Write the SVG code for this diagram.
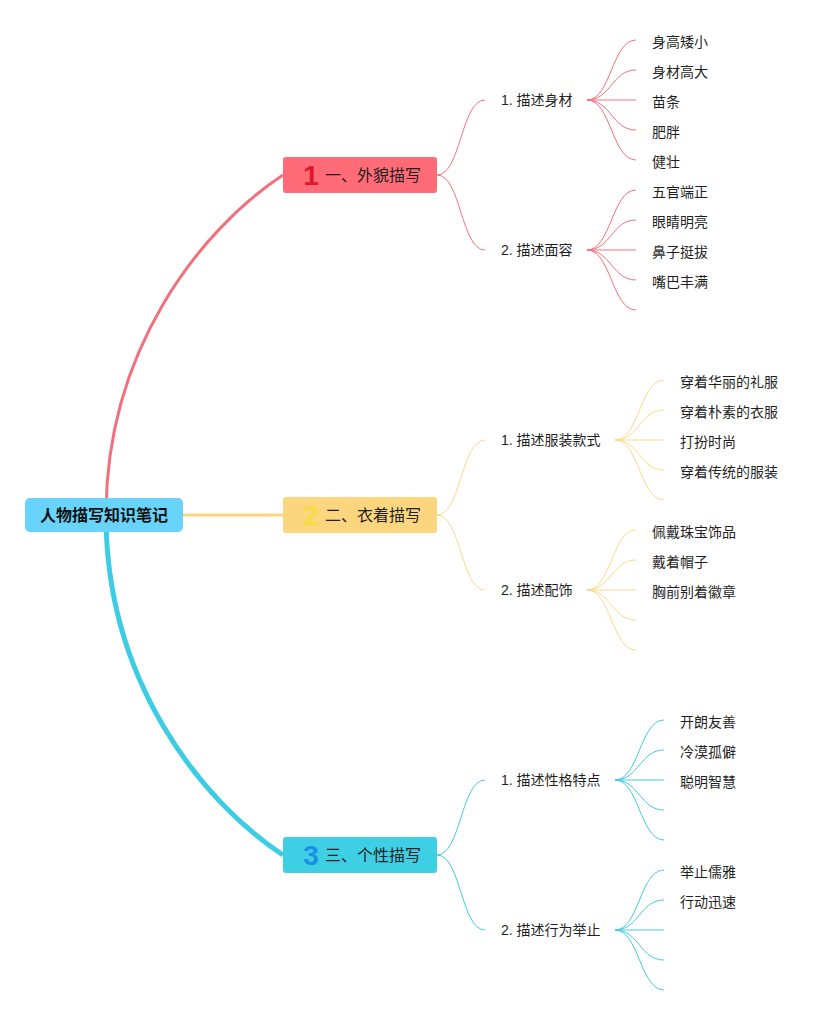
<svg xmlns="http://www.w3.org/2000/svg" width="837" height="1015" viewBox="0 0 837 1015">
<style>
text{font-family:"Liberation Sans","Noto Sans CJK SC",sans-serif;fill:#1f1f1f}
.root{font-size:16px;font-weight:bold;fill:#111}
.br{font-size:16px}
.num{font-size:28px;font-weight:bold}
.sub{font-size:14px}
.leaf{font-size:14px}
.thin{fill:none;stroke-width:1}
.r{stroke:#f1727e}
.y{stroke:#fbd98a}
.b{stroke:#45cbe3}
</style>
<rect width="837" height="1015" fill="#ffffff"/>
<g id="connectors" fill="none">
  <path d="M106,515 C106,350 200,230 283,175" stroke="#f0717d" stroke-width="3"/>
  <path d="M183,515 L283,515" stroke="#fbd67f" stroke-width="3"/>
  <path d="M106,515 C106,680 200,800 283,855" stroke="#3ccde4" stroke-width="5"/>
  <!-- branch 1 -->
  <path class="thin r" d="M437,175 C461,175 461,100 485,100"/>
  <path class="thin r" d="M437,175 C461,175 461,250 485,250"/>
  <path class="thin r" d="M587,100 C611,100 612,40 636,40"/>
  <path class="thin r" d="M587,100 C611,100 612,70 636,70"/>
  <path class="thin r" d="M587,100 L636,100"/>
  <path class="thin r" d="M587,100 C611,100 612,130 636,130"/>
  <path class="thin r" d="M587,100 C611,100 612,160 636,160"/>
  <path class="thin r" d="M587,250 C611,250 612,190 636,190"/>
  <path class="thin r" d="M587,250 C611,250 612,220 636,220"/>
  <path class="thin r" d="M587,250 L636,250"/>
  <path class="thin r" d="M587,250 C611,250 612,280 636,280"/>
  <path class="thin r" d="M587,250 C611,250 612,310 636,310"/>
  <!-- branch 2 -->
  <path class="thin y" d="M437,515 C461,515 461,440 485,440"/>
  <path class="thin y" d="M437,515 C461,515 461,590 485,590"/>
  <path class="thin y" d="M615,440 C639,440 640,380 664,380"/>
  <path class="thin y" d="M615,440 C639,440 640,410 664,410"/>
  <path class="thin y" d="M615,440 L664,440"/>
  <path class="thin y" d="M615,440 C639,440 640,470 664,470"/>
  <path class="thin y" d="M615,440 C639,440 640,500 664,500"/>
  <path class="thin y" d="M587,590 C611,590 612,530 636,530"/>
  <path class="thin y" d="M587,590 C611,590 612,560 636,560"/>
  <path class="thin y" d="M587,590 L636,590"/>
  <path class="thin y" d="M587,590 C611,590 612,620 636,620"/>
  <path class="thin y" d="M587,590 C611,590 612,650 636,650"/>
  <!-- branch 3 -->
  <path class="thin b" d="M437,855 C461,855 461,780 485,780"/>
  <path class="thin b" d="M437,855 C461,855 461,930 485,930"/>
  <path class="thin b" d="M615,780 C639,780 640,720 664,720"/>
  <path class="thin b" d="M615,780 C639,780 640,750 664,750"/>
  <path class="thin b" d="M615,780 L664,780"/>
  <path class="thin b" d="M615,780 C639,780 640,810 664,810"/>
  <path class="thin b" d="M615,780 C639,780 640,840 664,840"/>
  <path class="thin b" d="M615,930 C639,930 640,870 664,870"/>
  <path class="thin b" d="M615,930 C639,930 640,900 664,900"/>
  <path class="thin b" d="M615,930 L664,930"/>
  <path class="thin b" d="M615,930 C639,930 640,960 664,960"/>
  <path class="thin b" d="M615,930 C639,930 640,990 664,990"/>
</g>
<g id="root">
  <rect x="25" y="498" width="158" height="34" rx="5" fill="#68d4fc"/>
  <text class="root" x="104" y="521" text-anchor="middle">人物描写知识笔记</text>
</g>
<g id="branch1">
  <rect x="283" y="157" width="154" height="36" rx="3" fill="#ff6c78"/>
  <text class="num" x="311" y="185" text-anchor="middle" fill="#e2162c" style="fill:#e2162c">1</text>
  <text class="br" x="325" y="181">一、外貌描写</text>
</g>
<g id="branch2">
  <rect x="283" y="497" width="154" height="36" rx="3" fill="#fcd67e"/>
  <text class="num" x="311" y="525" text-anchor="middle" style="fill:#f8dc45">2</text>
  <text class="br" x="325" y="521">二、衣着描写</text>
</g>
<g id="branch3">
  <rect x="283" y="837" width="154" height="36" rx="3" fill="#3ecfe4"/>
  <text class="num" x="311" y="865" text-anchor="middle" style="fill:#1a8fe6">3</text>
  <text class="br" x="325" y="861">三、个性描写</text>
</g>
<g id="sub1-1"><text class="sub" x="501" y="105">1. 描述身材</text></g>
<g id="sub1-2"><text class="sub" x="501" y="255">2. 描述面容</text></g>
<g id="sub2-1"><text class="sub" x="501" y="445">1. 描述服装款式</text></g>
<g id="sub2-2"><text class="sub" x="501" y="595">2. 描述配饰</text></g>
<g id="sub3-1"><text class="sub" x="501" y="785">1. 描述性格特点</text></g>
<g id="sub3-2"><text class="sub" x="501" y="935">2. 描述行为举止</text></g>
<g id="leaves1">
  <text class="leaf" x="652" y="47">身高矮小</text>
  <text class="leaf" x="652" y="77">身材高大</text>
  <text class="leaf" x="652" y="107">苗条</text>
  <text class="leaf" x="652" y="137">肥胖</text>
  <text class="leaf" x="652" y="167">健壮</text>
  <text class="leaf" x="652" y="197">五官端正</text>
  <text class="leaf" x="652" y="227">眼睛明亮</text>
  <text class="leaf" x="652" y="257">鼻子挺拔</text>
  <text class="leaf" x="652" y="287">嘴巴丰满</text>
</g>
<g id="leaves2">
  <text class="leaf" x="680" y="387">穿着华丽的礼服</text>
  <text class="leaf" x="680" y="417">穿着朴素的衣服</text>
  <text class="leaf" x="680" y="447">打扮时尚</text>
  <text class="leaf" x="680" y="477">穿着传统的服装</text>
  <text class="leaf" x="652" y="537">佩戴珠宝饰品</text>
  <text class="leaf" x="652" y="567">戴着帽子</text>
  <text class="leaf" x="652" y="597">胸前别着徽章</text>
</g>
<g id="leaves3">
  <text class="leaf" x="680" y="727">开朗友善</text>
  <text class="leaf" x="680" y="757">冷漠孤僻</text>
  <text class="leaf" x="680" y="787">聪明智慧</text>
  <text class="leaf" x="680" y="877">举止儒雅</text>
  <text class="leaf" x="680" y="907">行动迅速</text>
</g>
</svg>
